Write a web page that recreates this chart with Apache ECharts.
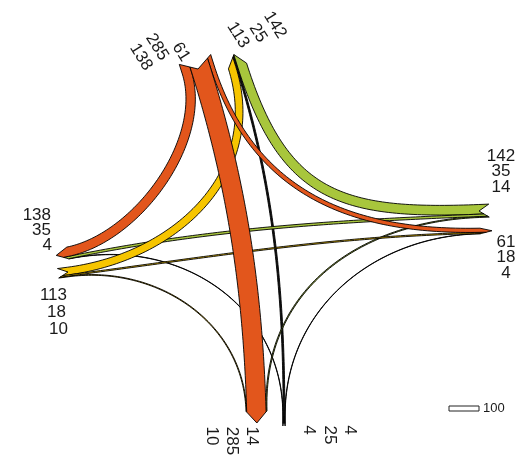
<!DOCTYPE html>
<html><head><meta charset="utf-8">
<script src="https://cdn.jsdelivr.net/npm/echarts@6/dist/echarts.min.js"></script>
<style>html,body{margin:0;padding:0;background:#fff}#c{width:525px;height:455px}</style>
</head><body><div id="c"></div>
<script>
// ---------------- data ----------------
const flowFrom   = ['N','N','N','E','E','E','S','S','S','W','W','W'];
const flowTo     = ['W','S','E','N','W','S','W','N','E','N','E','S'];
const flowVolume = [138,285,61,142,35,14,4,25,4,113,18,10];
const scaleBarValue = 100;

// ---------------- layout (positions / styles) ----------------
const K = 0.068;           // band width per vehicle (axis units)
const TAIL = 10, HEAD = 12, NSEG = 80;
const legColor = {N:'#E2561C', E:'#A8C63C', S:'#111111', W:'#F6C500'};
const legOrder = {N:['W','S','E'], S:['W','N','E'], E:['N','W','S'], W:['N','E','S']};
const tension = {'N-W':0.33,'N-S':0.35,'N-E':0.42,'E-N':0.5,'E-W':0.35,'E-S':0.42,
                 'S-W':0.42,'S-N':0.35,'S-E':0.4,'W-N':0.42,'W-E':0.35,'W-S':0.4};
const opposite = {N:'S', S:'N', E:'W', W:'E'};
const layout = {
  N:{o:[198,69],  od:[0.3,0.95],   d:[237.5,66], dd:[-0.3,-0.95]},
  E:{o:[479,211], od:[-1,0.04],    d:[480,231],  dd:[1,-0.02]},
  S:{o:[284,416], od:[0,-1],       d:[256.5,411],dd:[0.03,1]},
  W:{o:[68,272],  od:[0.99,-0.13], d:[68,253],   dd:[-0.98,0.2]}
};
const drawOrder = ['S','E','W','N'];
const labelSpec = [
  {leg:'N',kind:'o',order:['E','S','W'],rot:58,align:'center',pos:[[181,52],[157,47],[141,57]]},
  {leg:'N',kind:'d',order:['E','S','W'],rot:58,align:'center',pos:[[275,25],[258,33],[238,35]]},
  {leg:'E',kind:'o',order:['N','W','S'],rot:0, align:'center',pos:[[501,156.5],[501,171.5],[501,187]]},
  {leg:'E',kind:'d',order:['N','W','S'],rot:0, align:'center',pos:[[506,242],[506,257],[506,273]]},
  {leg:'S',kind:'d',order:['E','N','W'],rot:90,align:'center',pos:[[252,436],[232,441],[212,436]]},
  {leg:'S',kind:'o',order:['E','N','W'],rot:90,align:'center',pos:[[350,430],[330,435],[309,430]]},
  {leg:'W',kind:'d',order:['N','E','S'],rot:0, align:'right', pos:[[51,215.5],[51,230.5],[52,245]]},
  {leg:'W',kind:'o',order:['N','E','S'],rot:0, align:'right', pos:[[67,295.5],[66,312],[68,329.5]]}
];
const LABEL_FONT = '17px "Liberation Sans", Arial, sans-serif';

// ---------------- geometry helpers ----------------
function norm(v){const l=Math.hypot(v[0],v[1]);return [v[0]/l,v[1]/l];}
function perpOf(leg,dir){let p=[-dir[1],dir[0]];
  if(leg==='N'||leg==='S'){if(p[0]<0)p=[-p[0],-p[1]];}else{if(p[1]<0)p=[-p[0],-p[1]];}return p;}
function groupInfo(leg,kind){
  const idx=[];
  for(let i=0;i<flowVolume.length;i++){
    if(kind==='o'&&flowFrom[i]===leg)idx.push(i);
    if(kind==='d'&&flowTo[i]===leg)idx.push(i);
  }
  const other=i=>kind==='o'?flowTo[i]:flowFrom[i];
  idx.sort((a,b)=>legOrder[leg].indexOf(other(a))-legOrder[leg].indexOf(other(b)));
  const total=idx.reduce((s,i)=>s+flowVolume[i]*K,0);
  const pos={};let acc=-total/2;
  idx.forEach(i=>{const w=flowVolume[i]*K;pos[i]=acc+w/2;acc+=w;});
  return {total,pos};
}
const groups={};
['N','E','S','W'].forEach(l=>{groups[l+'o']=groupInfo(l,'o');groups[l+'d']=groupInfo(l,'d');});

function bez(P,t){const u=1-t;return [0,1].map(k=>u*u*u*P[0][k]+3*u*u*t*P[1][k]+3*u*t*t*P[2][k]+t*t*t*P[3][k]);}
function bezD(P,t){const u=1-t;return [0,1].map(k=>3*u*u*(P[1][k]-P[0][k])+6*u*t*(P[2][k]-P[1][k])+3*t*t*(P[3][k]-P[2][k]));}

function bandPolygon(i){
  const F=flowFrom[i],T=flowTo[i],h=flowVolume[i]*K/2;
  const Lo=layout[F],Ld=layout[T];
  const od=norm(Lo.od),dd=norm(Ld.dd);
  const po=perpOf(F,od),pd=perpOf(T,dd);
  const go=groups[F+'o'],gd=groups[T+'d'];
  const sO=go.pos[i],sD=gd.pos[i];
  const P0=[Lo.o[0]+sO*po[0],Lo.o[1]+sO*po[1]];
  const P3=[Ld.d[0]+sD*pd[0],Ld.d[1]+sD*pd[1]];
  const chord=Math.hypot(P3[0]-P0[0],P3[1]-P0[1]);
  const f=tension[F+'-'+T];
  const P=[P0,[P0[0]+f*chord*od[0],P0[1]+f*chord*od[1]],[P3[0]-f*chord*dd[0],P3[1]-f*chord*dd[1]],P3];
  const A=[],B=[];
  for(let j=0;j<=NSEG;j++){
    const t=j/NSEG,p=bez(P,t),d=norm(bezD(P,t)),n=[-d[1],d[0]];
    A.push([p[0]+h*n[0],p[1]+h*n[1]]);B.push([p[0]-h*n[0],p[1]-h*n[1]]);
  }
  const n0=[-od[1],od[0]],sg0=(n0[0]*po[0]+n0[1]*po[1])>0?1:-1;
  const sA0=sO+sg0*h,sB0=sO-sg0*h;
  const n1=[-dd[1],dd[0]],sg1=(n1[0]*pd[0]+n1[1]*pd[1])>0?1:-1;
  const sA1=sD+sg1*h,sB1=sD-sg1*h;
  const halfO=go.total/2,halfD=gd.total/2;
  const back=s=>TAIL*Math.min(1,Math.abs(s)/halfO);
  const fwd=s=>HEAD*Math.max(0,1-Math.abs(s)/halfD);
  const poly=[];
  poly.push([A[0][0]-od[0]*back(sA0),A[0][1]-od[1]*back(sA0)]);
  for(const p of A)poly.push(p);
  poly.push([A[NSEG][0]+dd[0]*fwd(sA1),A[NSEG][1]+dd[1]*fwd(sA1)]);
  if((sA1>0)!==(sB1>0))poly.push([Ld.d[0]+dd[0]*HEAD,Ld.d[1]+dd[1]*HEAD]);
  poly.push([B[NSEG][0]+dd[0]*fwd(sB1),B[NSEG][1]+dd[1]*fwd(sB1)]);
  for(let j=NSEG;j>=0;j--)poly.push(B[j]);
  poly.push([B[0][0]-od[0]*back(sB0),B[0][1]-od[1]*back(sB0)]);
  if((sA0>0)!==(sB0>0))poly.push([Lo.o[0],Lo.o[1]]);
  return poly;
}

// draw order: by origin leg, through movement of each leg last
const order=[];
drawOrder.forEach(l=>{
  const ids=[];for(let i=0;i<flowFrom.length;i++)if(flowFrom[i]===l)ids.push(i);
  ids.sort((a,b)=>(opposite[l]===flowTo[a]?1:0)-(opposite[l]===flowTo[b]?1:0));
  order.push(...ids);
});

function renderItem(params,api){
  const i=api.value(0);
  const pts=bandPolygon(i).map(p=>api.coord(p));
  return {type:'polygon',shape:{points:pts},
    style:{fill:legColor[flowFrom[i]],stroke:'#000',lineWidth:0.9}};
}

// labels
const graphics=[];
labelSpec.forEach(sp=>{
  sp.order.forEach((o,j)=>{
    let v=0;
    for(let i=0;i<flowVolume.length;i++){
      if(sp.kind==='o'&&flowFrom[i]===sp.leg&&flowTo[i]===o)v=flowVolume[i];
      if(sp.kind==='d'&&flowTo[i]===sp.leg&&flowFrom[i]===o)v=flowVolume[i];
    }
    graphics.push({type:'text',x:sp.pos[j][0],y:sp.pos[j][1],rotation:-sp.rot*Math.PI/180,silent:true,
      style:{text:String(v),fill:'#1a1a1a',font:LABEL_FONT,
        align:sp.align,verticalAlign:'middle',textAlign:sp.align,textVerticalAlign:'middle'}});
  });
});
// scale bar
graphics.push({type:'rect',x:449,y:406,shape:{width:30,height:5},style:{fill:'#fff',stroke:'#222',lineWidth:1},silent:true});
graphics.push({type:'text',x:483,y:408.5,silent:true,
  style:{text:String(scaleBarValue),fill:'#1a1a1a',font:'13px "Liberation Sans", Arial, sans-serif',
   align:'left',verticalAlign:'middle',textAlign:'left',textVerticalAlign:'middle'}});

const chart=echarts.init(document.getElementById('c'),null,{renderer:'canvas'});
chart.setOption({
  animation:false,
  backgroundColor:'#fff',
  grid:{left:0,right:0,top:0,bottom:0},
  xAxis:{type:'value',min:0,max:525,show:false},
  yAxis:{type:'value',min:0,max:455,inverse:true,show:false},
  series:[{type:'custom',coordinateSystem:'cartesian2d',renderItem,clip:false,silent:true,
    encode:{x:0,y:1},data:order.map(i=>[i,flowVolume[i]])}],
  graphic:graphics
});
</script></body></html>
